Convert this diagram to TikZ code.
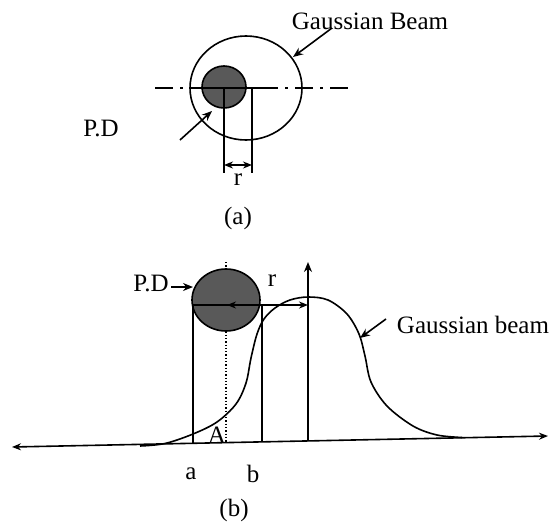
\documentclass[tikz,border=0pt]{standalone}
\usepackage{fontspec}
\setmainfont{Liberation Serif}
\usetikzlibrary{arrows.meta}
\begin{document}
\begin{tikzpicture}[x=1pt,y=-1pt,line width=1.6pt,
  lbl/.style={font=\fontsize{25}{29}\selectfont,inner sep=0pt},
  tip/.style={-{Stealth[length=10pt,width=8pt]}},
  dtip/.style={{Stealth[length=9pt,width=7pt]}-{Stealth[length=9pt,width=7pt]}},
  pd/.style={fill=black!65},
  dashdot/.style={dash pattern=on 18pt off 7pt on 3pt off 7pt}]
\useasboundingbox (0,0) rectangle (557,525);

% ---------------- (a) ----------------
\coordinate (ca) at (246,88);
\coordinate (pa) at (224,87);
\draw[dashdot] (155,88) -- (348,88);
\draw (ca) ellipse [x radius=56pt, y radius=52pt];
\fill[pd] (pa) ellipse [x radius=22pt, y radius=21pt];
\draw (pa) ellipse [x radius=22pt, y radius=21pt];
\coordinate (ha1) at (202,88);
\coordinate (ha2) at (260,88);
\draw (ha1) -- (ha2);
\coordinate (va1t) at (224,88);
\coordinate (va1b) at (224,173);
\coordinate (va2t) at (252,88);
\coordinate (va2b) at (252,173);
\draw (va1t) -- (va1b);
\draw (va2t) -- (va2b);
\coordinate (dra1) at (224,165);
\coordinate (dra2) at (252,165);
\draw[dtip] (dra1) -- (dra2);
\node[lbl] (ra) at (238,180) {r};
\node[lbl] (gba) at (370,21) {Gaussian Beam};
\coordinate (gbas) at (332,28);
\coordinate (gbae) at (293,57);
\draw[tip] (gbas) -- (gbae);
\node[lbl] (pda) at (101,128) {P.D};
\coordinate (pdas) at (180,140);
\coordinate (pdae) at (212,111);
\draw[tip] (pdas) -- (pdae);
\node[lbl] (capa) at (238,218) {(a)};

% ---------------- (b) ----------------
\coordinate (axl) at (12,447);
\coordinate (axr) at (548,436);
\draw[dtip] (axl) -- (axr);
% gaussian curve
\draw plot[smooth,tension=0.55] coordinates {(140,446) (165,443.5) (193,434) (217,422) (236,404) (246,383) (251,358) (257,334) (264,319) (275,308) (290,300) (308,297) (328,300) (347,314) (359,334) (365,356) (371,382) (387,406) (413,426) (437,435) (462,437.5)};
% vertical axis
\coordinate (vb) at (308,441);
\coordinate (vt) at (308,262);
\draw[tip] (vb) -- (vt);
% dotted centre line
\coordinate (dt) at (226,262);
\coordinate (db) at (226,442.5);
\draw[dotted,line width=1.3pt] (dt) -- (db);
% photodiode
\coordinate (pb) at (226,300);
\fill[pd] (pb) ellipse [x radius=34pt, y radius=31pt];
\draw (pb) ellipse [x radius=34pt, y radius=31pt];
% a and b lines
\coordinate (lat) at (193,305);
\coordinate (lab) at (193,443.3);
\coordinate (lbt) at (262,305);
\coordinate (lbb) at (262,441.9);
\draw (lat) -- (lab);
\draw (lbt) -- (lbb);
\draw (lat) -- (lbt);
\coordinate (rbs) at (227,305);
\coordinate (rbe) at (308,305);
\draw[dtip] (rbs) -- (rbe);
\node[lbl] (rb) at (272,281) {r};
\node[lbl] (pdb) at (151,283) {P.D};
\coordinate (pdbs) at (171,287);
\coordinate (pdbe) at (193,287);
\draw[tip] (pdbs) -- (pdbe);
\node[lbl] (gbb) at (473,325) {Gaussian beam};
\coordinate (gbbs) at (386,319);
\coordinate (gbbe) at (360,338);
\draw[tip] (gbbs) -- (gbbe);
\node[lbl] (A) at (217,435) {A};
\node[lbl] (la) at (191,474) {a};
\node[lbl] (lb) at (253,474) {b};
\node[lbl] (capb) at (234,510) {(b)};
\end{tikzpicture}
\end{document}
